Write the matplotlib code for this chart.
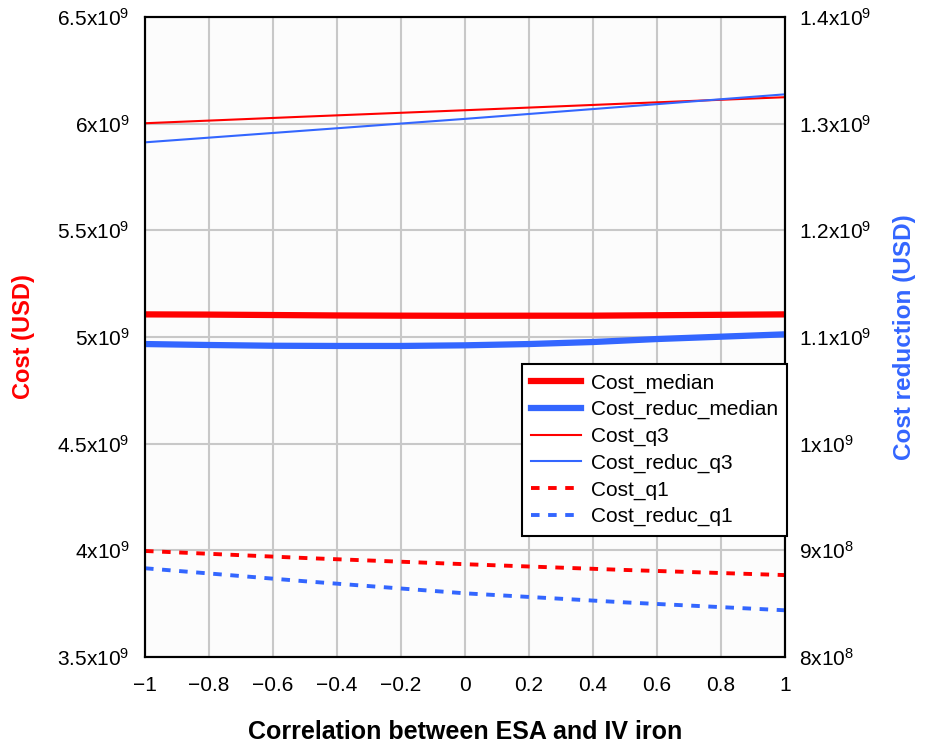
import matplotlib
matplotlib.use('Agg')
import matplotlib.pyplot as plt
import numpy as np

plt.rcParams['font.family'] = ['Liberation Sans', 'DejaVu Sans']
plt.rcParams['mathtext.default'] = 'regular'

# correlation values (x)
corr_fine = [-1.0, -0.8, -0.6, -0.4, -0.2, 0.0, 0.2, 0.4, 0.6, 0.8, 1.0]
corr = [-1.0, -0.5, 0.0, 0.5, 1.0]

# cost, left axis (USD)
cost_median = [5.106e9, 5.105e9, 5.103e9, 5.101e9, 5.100e9, 5.0995e9,
               5.0998e9, 5.100e9, 5.102e9, 5.104e9, 5.106e9]
cost_q3 = [6.002e9, 6.033e9, 6.063e9, 6.094e9, 6.124e9]
cost_q1 = [3.997e9, 3.964e9, 3.935e9, 3.908e9, 3.884e9]

# cost reduction, right axis (USD)
reduc_median = [1.0934e9, 1.0925e9, 1.0918e9, 1.0916e9, 1.0916e9, 1.0922e9,
                1.0934e9, 1.0953e9, 1.0981e9, 1.1003e9, 1.1025e9]
reduc_q3 = [1.2825e9, 1.2935e9, 1.3045e9, 1.3160e9, 1.3275e9]
reduc_q1 = [0.8832e9, 0.8710e9, 0.8597e9, 0.8512e9, 0.8438e9]

xticks = [-1, -0.8, -0.6, -0.4, -0.2, 0, 0.2, 0.4, 0.6, 0.8, 1]
xticklabels = ['\u22121', '\u22120.8', '\u22120.6', '\u22120.4', '\u22120.2', '0',
               '0.2', '0.4', '0.6', '0.8', '1']
left_ticks = [3.5e9, 4e9, 4.5e9, 5e9, 5.5e9, 6e9, 6.5e9]
left_labels = [r'3.5x10$^9$', r'4x10$^9$', r'4.5x10$^9$', r'5x10$^9$',
               r'5.5x10$^9$', r'6x10$^9$', r'6.5x10$^9$']
right_ticks = [8e8, 9e8, 1e9, 1.1e9, 1.2e9, 1.3e9, 1.4e9]
right_labels = [r'8x10$^8$', r'9x10$^8$', r'1x10$^9$', r'1.1x10$^9$',
                r'1.2x10$^9$', r'1.3x10$^9$', r'1.4x10$^9$']

red = '#ff0000'
blue = '#3366ff'

fig = plt.figure(figsize=(9.28, 7.43), dpi=100)
ax = fig.add_axes([145/928, 1 - 657/743, 640/928, 640/743])
ax2 = ax.twinx()

l1, = ax.plot(corr_fine, cost_median, color=red, lw=4.5, label='Cost_median')
l3, = ax.plot(corr, cost_q3, color=red, lw=1.5, label='Cost_q3')
l5, = ax.plot(corr, cost_q1, color=red, lw=2.8, ls=(0, (2.2, 2.2)), label='Cost_q1')
l2, = ax2.plot(corr_fine, reduc_median, color=blue, lw=4.5, label='Cost_reduc_median')
l4, = ax2.plot(corr, reduc_q3, color=blue, lw=1.5, label='Cost_reduc_q3')
l6, = ax2.plot(corr, reduc_q1, color=blue, lw=2.8, ls=(0, (2.2, 2.2)), label='Cost_reduc_q1')

ax.set_xlim(-1, 1)
ax.set_ylim(3.5e9, 6.5e9)
ax2.set_ylim(8e8, 1.4e9)

ax.set_xticks(xticks)
ax.set_xticklabels(xticklabels, fontsize=15)
ax.set_yticks(left_ticks)
ax.set_yticklabels(left_labels, fontsize=15)
ax2.set_yticks(right_ticks)
ax2.set_yticklabels(right_labels, fontsize=15)

ax.tick_params(axis='x', length=0, pad=14)
ax.tick_params(axis='y', length=0, pad=11)
ax2.tick_params(length=0, pad=10)

ax.grid(True, color='#c8c8c8', lw=1.5)
ax.set_axisbelow(True)
ax.set_facecolor('#fcfcfc')
for a in (ax, ax2):
    for s in a.spines.values():
        s.set_linewidth(1.5)
        s.set_color('black')

ax.set_xlabel('Correlation between ESA and IV iron', fontsize=18, fontweight='bold', labelpad=18)
ax.set_ylabel('Cost (USD)', fontsize=17, fontweight='bold', color=red, labelpad=16)
ax2.set_ylabel('Cost reduction (USD)', fontsize=17.5, fontweight='bold', color=blue, labelpad=16)

leg = ax2.legend(handles=[l1, l2, l3, l4, l5, l6], loc='upper left',
                 bbox_to_anchor=(522/928, 1 - 364/743), bbox_transform=fig.transFigure,
                 borderaxespad=0, fancybox=False, framealpha=1, edgecolor='black',
                 fontsize=15, handlelength=2.4, labelspacing=0.36, borderpad=0.45,
                 handletextpad=0.45)
leg.get_frame().set_linewidth(1.5)

fig.savefig('out.png', dpi=100)
